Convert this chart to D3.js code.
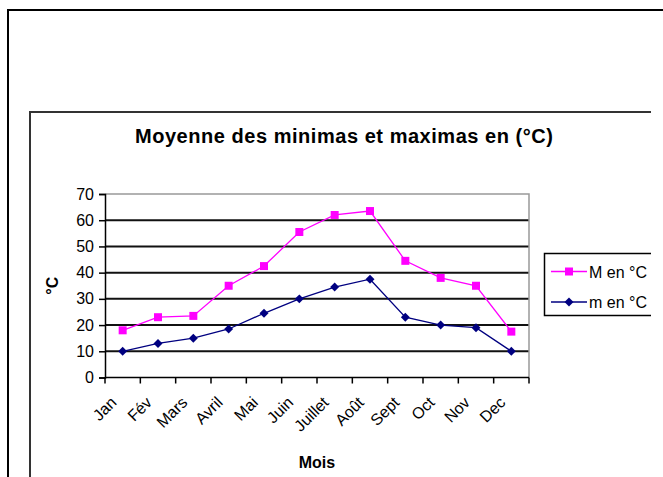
<!DOCTYPE html>
<html>
<head>
<meta charset="utf-8">
<script src="https://cdn.jsdelivr.net/npm/d3@7"></script>
<style>
  body { margin: 0; background: #fff; }
  svg { display: block; font-family: 'Liberation Sans', Arial, sans-serif; }
</style>
</head>
<body>
<div id="chart"></div>
<script>
// chart data
var months = ['Jan', 'Fév', 'Mars', 'Avril', 'Mai', 'Juin', 'Juillet', 'Août', 'Sept', 'Oct', 'Nov', 'Dec'];
var maxValues = [18, 23, 23.5, 35, 42.5, 55.5, 62, 63.5, 44.5, 38, 35, 17.5];
var minValues = [10, 13, 15, 18.5, 24.5, 30, 34.5, 37.5, 23, 20, 19, 10];
var yTicks = [0, 10, 20, 30, 40, 50, 60, 70];
var seriesNames = ['M en °C', 'm en °C'];

var width = 663, height = 477;
var plot = {left: 105, right: 529, top: 194, bottom: 377.5};

var svg = d3.select('#chart').append('svg')
    .attr('width', width)
    .attr('height', height);

// outer page frame
svg.append('path')
    .attr('d', 'M8,' + height + 'V10H' + width)
    .attr('fill', 'none')
    .attr('stroke', '#000')
    .attr('stroke-width', 2);

// chart clipped at the right side like the screenshot
svg.append('clipPath').attr('id', 'cut')
    .append('rect').attr('x', 0).attr('y', 0).attr('width', 651).attr('height', height);

var chart = svg.append('g').attr('clip-path', 'url(#cut)');

chart.append('path')
    .attr('d', 'M30,' + height + 'V112H651')
    .attr('fill', 'none')
    .attr('stroke', '#333')
    .attr('stroke-width', 2);

// title
chart.append('text')
    .attr('x', 344)
    .attr('y', 143)
    .attr('text-anchor', 'middle')
    .attr('textLength', 418)
    .style('font-size', '20px')
    .style('font-weight', 'bold')
    .text('Moyenne des minimas et maximas en (°C)');

var x = d3.scaleBand().domain(months).range([plot.left, plot.right]);
var y = d3.scaleLinear().domain([0, 70]).range([plot.bottom, plot.top]);

// grid lines
chart.selectAll('.grid')
    .data(yTicks.filter(function(d) { return d > 0 && d < 70; }))
    .enter().append('line')
    .attr('x1', plot.left).attr('x2', plot.right)
    .attr('y1', function(d) { return y(d); })
    .attr('y2', function(d) { return y(d); })
    .attr('stroke', '#111')
    .attr('stroke-width', 2);

// plot border top/right
chart.append('path')
    .attr('d', 'M' + plot.left + ',' + plot.top + 'H' + plot.right + 'V' + plot.bottom)
    .attr('fill', 'none')
    .attr('stroke', '#999')
    .attr('stroke-width', 1.5);

// y axis
var yAxis = chart.append('g')
    .attr('transform', 'translate(' + plot.left + ',0)')
    .call(d3.axisLeft(y).tickValues(yTicks).tickSize(6).tickPadding(5));
yAxis.select('.domain').attr('stroke', '#000').attr('stroke-width', 1.5);
yAxis.selectAll('.tick line').attr('stroke', '#000').attr('stroke-width', 1.5);
yAxis.selectAll('.tick text')
    .style('font-size', '16px')
    .style('font-family', "'Liberation Sans', Arial, sans-serif")
    .attr('fill', '#000');

// x axis, ticks between categories
var xAxis = chart.append('g')
    .attr('transform', 'translate(0,' + plot.bottom + ')');
xAxis.append('line')
    .attr('x1', plot.left).attr('x2', plot.right)
    .attr('stroke', '#000').attr('stroke-width', 1.5);
xAxis.selectAll('.xtick')
    .data(months.concat(['end']))
    .enter().append('line')
    .attr('x1', function(d, i) { return i < months.length ? x(d) : plot.right; })
    .attr('x2', function(d, i) { return i < months.length ? x(d) : plot.right; })
    .attr('y1', 0).attr('y2', 6)
    .attr('stroke', '#000').attr('stroke-width', 1.5);
xAxis.selectAll('.xlabel')
    .data(months)
    .enter().append('text')
    .attr('text-anchor', 'end')
    .attr('transform', function(d) {
        return 'translate(' + (x(d) + x.bandwidth() / 2 - 5) + ',26) rotate(-45)';
    })
    .style('font-size', '16px')
    .text(function(d) { return d; });

// axis titles
chart.append('text')
    .attr('x', (plot.left + plot.right) / 2)
    .attr('y', 468)
    .attr('text-anchor', 'middle')
    .style('font-size', '16px')
    .style('font-weight', 'bold')
    .text('Mois');

chart.append('text')
    .attr('transform', 'translate(58,' + ((plot.top + plot.bottom) / 2) + ') rotate(-90)')
    .attr('text-anchor', 'middle')
    .style('font-size', '16px')
    .style('font-weight', 'bold')
    .text('°C');

// series lines
var line = d3.line()
    .x(function(d, i) { return x(months[i]) + x.bandwidth() / 2; })
    .y(function(d) { return y(d); });

var series = [
    {name: seriesNames[0], values: maxValues, color: '#ff00ff', size: 64, rot: 0},
    {name: seriesNames[1], values: minValues, color: '#000080', size: 40, rot: 45}
];

series.forEach(function(s) {
    chart.append('path')
        .attr('d', line(s.values))
        .attr('fill', 'none')
        .attr('stroke', s.color)
        .attr('stroke-width', 1.3);
    chart.selectAll(null)
        .data(s.values)
        .enter().append('path')
        .attr('d', d3.symbol().type(d3.symbolSquare).size(s.size))
        .attr('transform', function(d, i) {
            return 'translate(' + (x(months[i]) + x.bandwidth() / 2) + ',' + y(d) + ') rotate(' + s.rot + ')';
        })
        .attr('fill', s.color);
});

// legend
var legend = chart.append('g');
legend.append('rect')
    .attr('x', 544.5).attr('y', 253.5)
    .attr('width', 120).attr('height', 62)
    .attr('fill', '#fff')
    .attr('stroke', '#000')
    .attr('stroke-width', 1.5);

series.forEach(function(s, i) {
    var ly = 271.5 + i * 30.5;
    legend.append('line')
        .attr('x1', 551).attr('x2', 587)
        .attr('y1', ly).attr('y2', ly)
        .attr('stroke', s.color).attr('stroke-width', 1.3);
    legend.append('path')
        .attr('d', d3.symbol().type(d3.symbolSquare).size(s.size))
        .attr('transform', 'translate(569,' + ly + ') rotate(' + s.rot + ')')
        .attr('fill', s.color);
    legend.append('text')
        .attr('x', 589).attr('y', ly + 6)
        .style('font-size', '16px')
        .text(s.name);
});
</script>
</body>
</html>
